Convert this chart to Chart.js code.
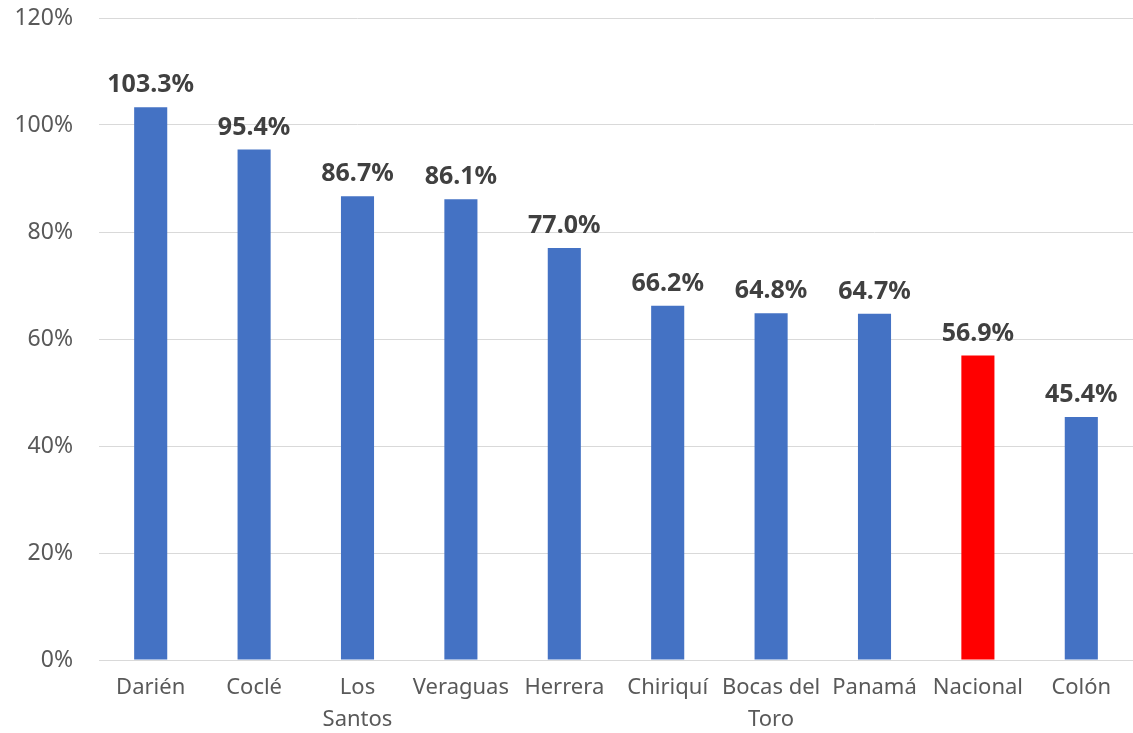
<!DOCTYPE html>
<html>
<head>
<meta charset="utf-8">
<script src="https://cdn.jsdelivr.net/npm/chart.js@4/dist/chart.umd.min.js"></script>
<style>
    html, body { margin: 0; padding: 0; background: #ffffff; }
    #wrap { width: 1133px; height: 733px; }
</style>
</head>
<body>
<div id="wrap"><canvas id="chartBars" width="1133" height="733"></canvas></div>
<script>
const categories = ['Darién', 'Coclé', ['Los', 'Santos'], 'Veraguas', 'Herrera', 'Chiriquí', ['Bocas del', 'Toro'], 'Panamá', 'Nacional', 'Colón'];
const values = [103.3, 95.4, 86.7, 86.1, 77.0, 66.2, 64.8, 64.7, 56.9, 45.4];
const highlight = 'Nacional';
const yTicks = [0, 20, 40, 60, 80, 100, 120];

const barColors = categories.map(c => c === highlight ? '#FF0000' : '#4472C4');

// value labels above each bar
const valueLabels = {
    id: 'valueLabels',
    afterDatasetsDraw(chart) {
        const ctx = chart.ctx;
        const meta = chart.getDatasetMeta(0);
        ctx.save();
        ctx.font = 'bold 25px "Noto Sans"';
        ctx.fillStyle = '#404040';
        ctx.textAlign = 'center';
        ctx.textBaseline = 'alphabetic';
        meta.data.forEach((bar, i) => {
            ctx.fillText(values[i].toFixed(1) + '%', bar.x, bar.y - 15);
        });
        ctx.restore();
    }
};

Chart.defaults.font.family = '"Noto Sans", sans-serif';

const ctx = document.getElementById('chartBars').getContext('2d');
const chart = new Chart(ctx, {
    type: 'bar',
    data: {
        labels: categories,
        datasets: [
            {
                data: values,
                backgroundColor: barColors,
                borderWidth: 0,
                barPercentage: 0.32,
                categoryPercentage: 1.0
            }
        ]
    },
    options: {
        responsive: false,
        animation: false,
        layout: {
            padding: { top: 18, right: 0, bottom: 0, left: 0 }
        },
        plugins: {
            legend: { display: false },
            tooltip: { enabled: false }
        },
        scales: {
            x: {
                grid: { display: false, drawTicks: false },
                border: { display: true, color: '#D9D9D9', width: 1 },
                ticks: {
                    color: '#595959',
                    font: { size: 22, lineHeight: 1.45 },
                    padding: 12,
                    maxRotation: 0,
                    autoSkip: false
                },
                afterFit: scale => { scale.height = 73; }
            },
            y: {
                min: 0,
                max: 120,
                afterBuildTicks: scale => { scale.ticks = yTicks.map(v => ({ value: v })); },
                grid: { color: '#D9D9D9', drawTicks: false },
                border: { display: false },
                ticks: {
                    color: '#595959',
                    font: { size: 23 },
                    padding: 26,
                    callback: v => v + '%'
                },
                afterFit: scale => {
                    scale.width = 99;
                    scale.paddingTop = 0;
                    scale.paddingBottom = 0;
                }
            }
        }
    },
    plugins: [valueLabels]
});
</script>
</body>
</html>
